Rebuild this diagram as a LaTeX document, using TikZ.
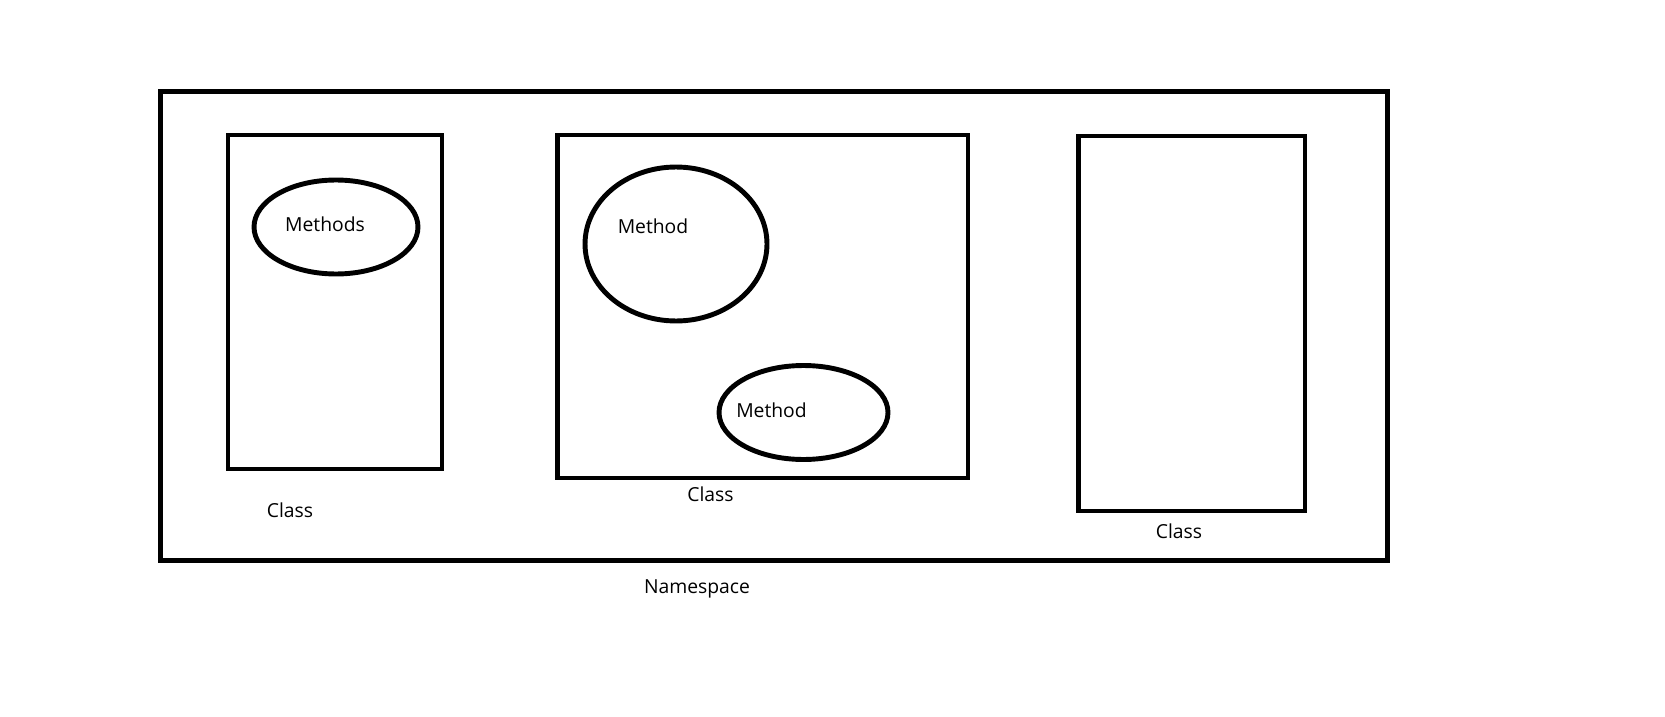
\documentclass[tikz,border=0pt]{standalone}
\usepackage{fontspec}
\setmainfont{Open Sans}
\usepackage{tikz}
\usetikzlibrary{positioning, shapes.geometric}
\def\linewd{2.8pt}
\tikzstyle{label} = [draw=none, inner sep=0, anchor=base, font=\fontsize{11pt}{13pt}\selectfont]
\newcommand{\tikzboxnode}[2]{\node[
  draw=black, rectangle, line width=\linewd, minimum width=#1, minimum height=#2, inner sep=0
]}
\newcommand{\tikzmethodnode}[2]{\node[
  draw=black, ellipse, line width=\linewd, minimum width=#1, minimum height=#2, inner sep=0
]}

\begin{document}
\begin{tikzpicture}[x=0.02cm, y=-0.02cm]
    \useasboundingbox (0, 0) rectangle (1665, 716);

    % boxes
    \tikzboxnode{24.56cm}{9.4cm}  at (774, 326)     (ns)   {};
    \tikzboxnode{4.28cm}{6.68cm}  at (335, 302)     (cls1) {};
    \tikzboxnode{8.22cm}{6.86cm}  at (762.5, 306.5) (cls2) {};
    \tikzboxnode{4.54cm}{7.5cm}   at (1191.5, 323.5) (cls3) {};

    % methods
    \tikzmethodnode{3.28cm}{1.88cm} at (336, 227)     (m1) {};
    \tikzmethodnode{3.64cm}{3.08cm} at (676, 244)     (m2) {};
    \tikzmethodnode{3.38cm}{1.88cm} at (803.5, 412.5) (m3) {};

    % labels
    \node[label] at (325, 232)  (m1-text)   {Methods};
    \node[label] at (653, 234)  (m2-text)   {Method};
    \node[label] at (771.5, 417) (m3-text)  {Method};
    \node[label] at (290, 517)  (cls1-text) {Class};
    \node[label] at (710.5, 501) (cls2-text) {Class};
    \node[label] at (1179, 538) (cls3-text) {Class};
    \node[label] at (697, 593)  (ns-text)   {Namespace};
\end{tikzpicture}
\end{document}
